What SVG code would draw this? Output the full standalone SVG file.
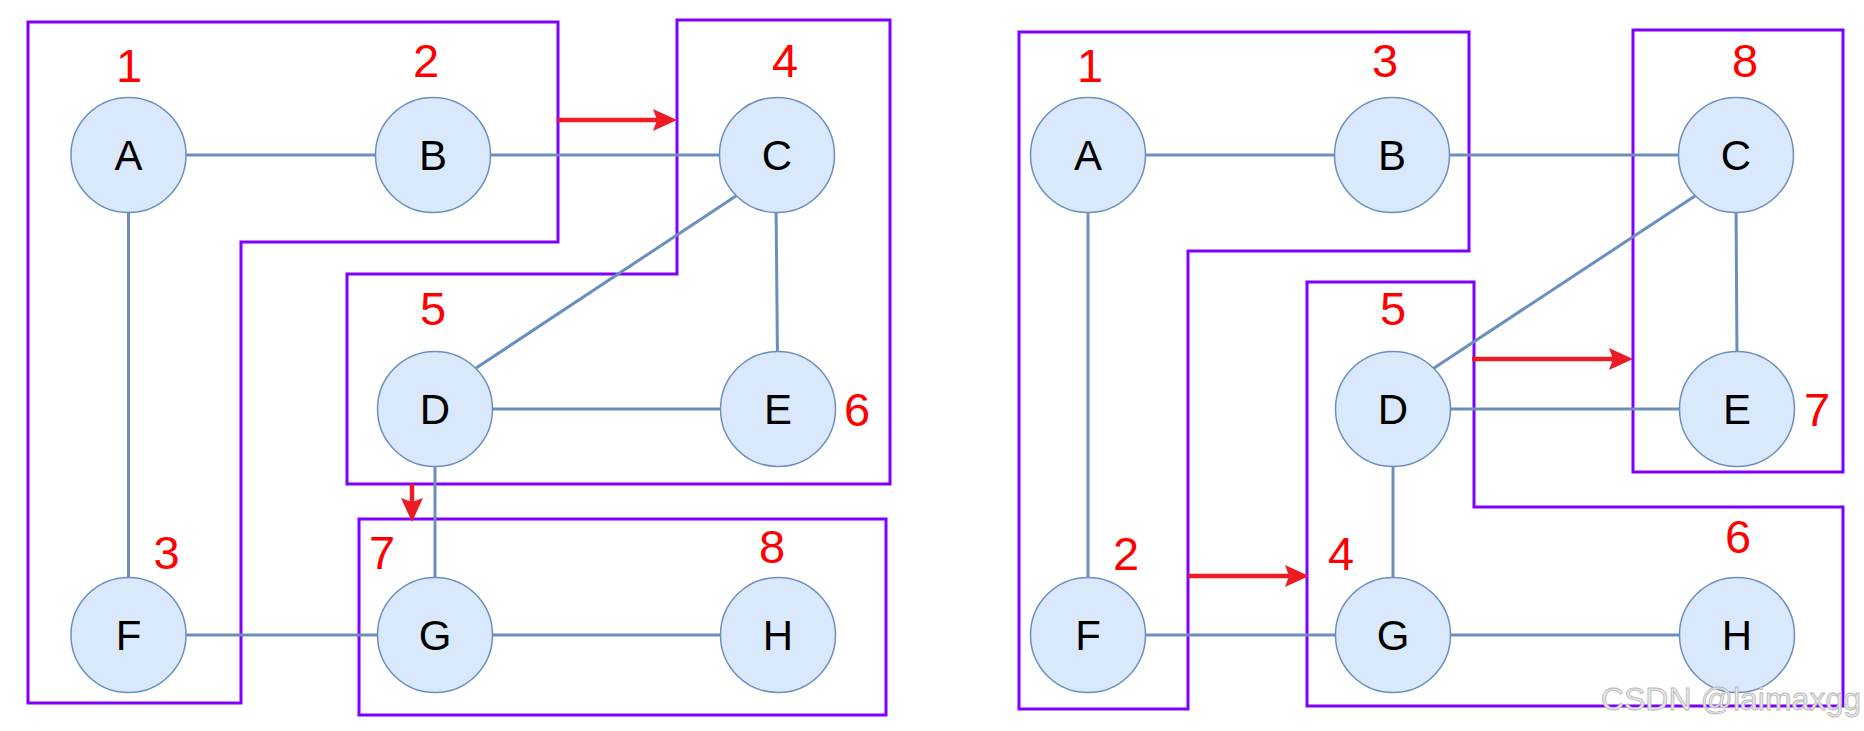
<svg xmlns="http://www.w3.org/2000/svg" width="1864" height="731" viewBox="0 0 1864 731">
<style>
.nd{fill:#dae8fc;stroke:#6c8ebf;stroke-width:1.5}
.lt{font-family:"Liberation Sans",Arial,sans-serif;font-size:42px;fill:#000;text-anchor:middle}
.num{font-family:"Liberation Sans",Arial,sans-serif;font-size:47px;fill:#ff0000;text-anchor:middle}
.ed{stroke:#6c8ebf;stroke-width:3;fill:none}
.grp{stroke:#7f00ff;stroke-width:3;fill:none}
.arr{stroke:#ed1c24;stroke-width:4.5;fill:none;marker-end:url(#ah)}
.wm{font-family:"Liberation Sans",Arial,sans-serif;font-size:32px;fill:#e6e6e6;stroke:#b8b8b8;stroke-width:0.8;text-anchor:end}
</style>
<defs>
<marker id="ah" markerUnits="userSpaceOnUse" viewBox="0 0 24 22" refX="6" refY="11" markerWidth="24" markerHeight="22" orient="auto">
<path d="M0,0 L24,11 L0,22 L4,11 Z" fill="#ed1c24"/>
</marker>
</defs>
<rect width="1864" height="731" fill="#fff"/>

<g id="groups">
<polygon class="grp" points="28,22 558,22 558,242 241,242 241,703 28,703"/>
<polygon class="grp" points="677,20 890,20 890,484 347,484 347,274 677,274"/>
<rect class="grp" x="359" y="519" width="527" height="196"/>
<polygon class="grp" points="1019,32 1469,32 1469,251 1188,251 1188,709 1019,709"/>
<polygon class="grp" points="1307,282 1474,282 1474,507 1843,507 1843,706 1307,706"/>
<rect class="grp" x="1633" y="30" width="210" height="442"/>
</g>

<g id="connectors">
<line class="ed" x1="128.5" y1="155" x2="433" y2="155"/>
<line class="ed" x1="433" y1="155" x2="777" y2="155"/>
<line class="ed" x1="128.5" y1="155" x2="128.5" y2="635"/>
<line class="ed" x1="736.3" y1="195.7" x2="475.7" y2="368.3"/>
<line class="ed" x1="776" y1="200" x2="777.5" y2="360"/>
<line class="ed" x1="435" y1="409" x2="778" y2="409"/>
<line class="ed" x1="435" y1="409" x2="435" y2="635"/>
<line class="ed" x1="128.5" y1="635" x2="435" y2="635"/>
<line class="ed" x1="435" y1="635" x2="778" y2="635"/>

<line class="ed" x1="1088" y1="155" x2="1392" y2="155"/>
<line class="ed" x1="1392" y1="155" x2="1736" y2="155"/>
<line class="ed" x1="1088" y1="155" x2="1088" y2="635"/>
<line class="ed" x1="1695.3" y1="195.7" x2="1433.7" y2="368.3"/>
<line class="ed" x1="1736" y1="200" x2="1737" y2="360"/>
<line class="ed" x1="1393" y1="409" x2="1737" y2="409"/>
<line class="ed" x1="1393" y1="409" x2="1393" y2="635"/>
<line class="ed" x1="1088" y1="635" x2="1393" y2="635"/>
<line class="ed" x1="1393" y1="635" x2="1737" y2="635"/>

<line class="arr" x1="558" y1="120" x2="659" y2="120"/>
<line class="arr" x1="412" y1="484" x2="412" y2="504"/>
<line class="arr" x1="1472" y1="359" x2="1615" y2="359"/>
<line class="arr" x1="1188" y1="576" x2="1291" y2="576"/>
</g>

<g id="nA1"><circle class="nd" cx="128.5" cy="155" r="57.5"/><text class="lt" x="128.5" y="170">A</text></g>
<g id="nB1"><circle class="nd" cx="433" cy="155" r="57.5"/><text class="lt" x="433" y="170">B</text></g>
<g id="nC1"><circle class="nd" cx="777" cy="155" r="57.5"/><text class="lt" x="777" y="170">C</text></g>
<g id="nD1"><circle class="nd" cx="435" cy="409" r="57.5"/><text class="lt" x="435" y="424">D</text></g>
<g id="nE1"><circle class="nd" cx="778" cy="409" r="57.5"/><text class="lt" x="778" y="424">E</text></g>
<g id="nF1"><circle class="nd" cx="128.5" cy="635" r="57.5"/><text class="lt" x="128.5" y="650">F</text></g>
<g id="nG1"><circle class="nd" cx="435" cy="635" r="57.5"/><text class="lt" x="435" y="650">G</text></g>
<g id="nH1"><circle class="nd" cx="778" cy="635" r="57.5"/><text class="lt" x="778" y="650">H</text></g>

<g id="nA2"><circle class="nd" cx="1088" cy="155" r="57.5"/><text class="lt" x="1088" y="170">A</text></g>
<g id="nB2"><circle class="nd" cx="1392" cy="155" r="57.5"/><text class="lt" x="1392" y="170">B</text></g>
<g id="nC2"><circle class="nd" cx="1736" cy="155" r="57.5"/><text class="lt" x="1736" y="170">C</text></g>
<g id="nD2"><circle class="nd" cx="1393" cy="409" r="57.5"/><text class="lt" x="1393" y="424">D</text></g>
<g id="nE2"><circle class="nd" cx="1737" cy="409" r="57.5"/><text class="lt" x="1737" y="424">E</text></g>
<g id="nF2"><circle class="nd" cx="1088" cy="635" r="57.5"/><text class="lt" x="1088" y="650">F</text></g>
<g id="nG2"><circle class="nd" cx="1393" cy="635" r="57.5"/><text class="lt" x="1393" y="650">G</text></g>
<g id="nH2"><circle class="nd" cx="1737" cy="635" r="57.5"/><text class="lt" x="1737" y="650">H</text></g>

<g id="labels">
<text class="num" x="129" y="82">1</text>
<text class="num" x="426" y="77">2</text>
<text class="num" x="785" y="77">4</text>
<text class="num" x="433" y="325">5</text>
<text class="num" x="857" y="426">6</text>
<text class="num" x="166.5" y="569">3</text>
<text class="num" x="382" y="569">7</text>
<text class="num" x="772" y="563">8</text>

<text class="num" x="1090" y="82">1</text>
<text class="num" x="1385" y="77">3</text>
<text class="num" x="1745" y="77">8</text>
<text class="num" x="1393" y="325">5</text>
<text class="num" x="1817" y="426">7</text>
<text class="num" x="1738" y="553">6</text>
<text class="num" x="1126" y="570">2</text>
<text class="num" x="1341" y="570">4</text>
</g>

<text class="wm" x="1861" y="710">CSDN @laimaxgg</text>
</svg>
